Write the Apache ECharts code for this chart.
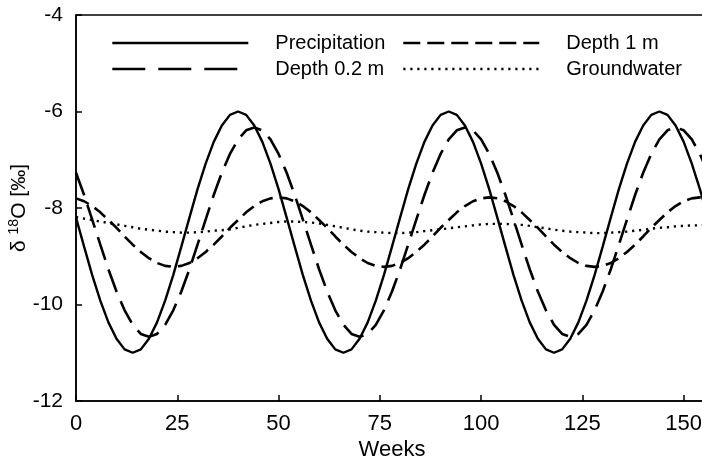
<!DOCTYPE html>
<html>
<head>
<meta charset="utf-8">
<script src="https://cdn.jsdelivr.net/npm/echarts@6/dist/echarts.min.js"></script>
<style>
  html, body { margin: 0; padding: 0; background: #fff; }
  #chart { width: 702px; height: 471px; }
</style>
</head>
<body>
<div id="chart"></div>
<script>
// Sampling weeks (every 2 weeks over three years)
const weeks = [0,2,4,6,8,10,12,14,16,18,20,22,24,26,28,30,32,34,36,38,40,42,44,46,48,50,
  52,54,56,58,60,62,64,66,68,70,72,74,76,78,80,82,84,86,88,90,92,94,96,98,100,102,
  104,106,108,110,112,114,116,118,120,122,124,126,128,130,132,134,136,138,140,142,144,146,148,150,152,154,156];

// δ18O [‰] at each sampled week
const precipitation = [
  -8.20,-8.80,-9.39,-9.92,-10.37,-10.71,-10.93,-11.00,-10.93,-10.71,-10.37,-9.92,-9.39,-8.80,-8.20,-7.61,-7.08,-6.63,-6.29,-6.07,-6.00,-6.07,-6.29,-6.63,-7.08,-7.61,
  -8.20,-8.80,-9.39,-9.92,-10.37,-10.71,-10.93,-11.00,-10.93,-10.71,-10.37,-9.92,-9.39,-8.80,-8.20,-7.61,-7.08,-6.63,-6.29,-6.07,-6.00,-6.07,-6.29,-6.63,-7.08,-7.61,
  -8.20,-8.80,-9.39,-9.92,-10.37,-10.71,-10.93,-11.00,-10.93,-10.71,-10.37,-9.92,-9.39,-8.80,-8.20,-7.61,-7.08,-6.63,-6.29,-6.07,-6.00,-6.07,-6.29,-6.63,-7.08,-7.61,
  -8.20];

const depth02 = [
  -7.27,-7.73,-8.24,-8.76,-9.27,-9.73,-10.12,-10.42,-10.61,-10.67,-10.61,-10.42,-10.12,-9.73,-9.27,-8.76,-8.24,-7.73,-7.27,-6.88,-6.58,-6.39,-6.33,-6.39,-6.58,-6.88,
  -7.27,-7.73,-8.24,-8.76,-9.27,-9.73,-10.12,-10.42,-10.61,-10.67,-10.61,-10.42,-10.12,-9.73,-9.27,-8.76,-8.24,-7.73,-7.27,-6.88,-6.58,-6.39,-6.33,-6.39,-6.58,-6.88,
  -7.27,-7.73,-8.24,-8.76,-9.27,-9.73,-10.12,-10.42,-10.61,-10.67,-10.61,-10.42,-10.12,-9.73,-9.27,-8.76,-8.24,-7.73,-7.27,-6.88,-6.58,-6.39,-6.33,-6.39,-6.58,-6.88,
  -7.27];

const depth1 = [
  -7.80,-7.86,-7.96,-8.09,-8.25,-8.41,-8.59,-8.76,-8.91,-9.04,-9.14,-9.20,-9.22,-9.20,-9.14,-9.04,-8.91,-8.76,-8.59,-8.41,-8.25,-8.09,-7.96,-7.86,-7.80,-7.78,
  -7.80,-7.86,-7.96,-8.09,-8.25,-8.41,-8.59,-8.76,-8.91,-9.04,-9.14,-9.20,-9.22,-9.20,-9.14,-9.04,-8.91,-8.76,-8.59,-8.41,-8.25,-8.09,-7.96,-7.86,-7.80,-7.78,
  -7.80,-7.86,-7.96,-8.09,-8.25,-8.41,-8.59,-8.76,-8.91,-9.04,-9.14,-9.20,-9.22,-9.20,-9.14,-9.04,-8.91,-8.76,-8.59,-8.41,-8.25,-8.09,-7.96,-7.86,-7.80,-7.78,
  -7.80];

const groundwater = [
  -8.19,-8.22,-8.25,-8.28,-8.31,-8.34,-8.37,-8.40,-8.43,-8.45,-8.47,-8.49,-8.50,-8.51,-8.51,-8.50,-8.49,-8.47,-8.46,-8.44,-8.41,-8.38,-8.35,-8.33,-8.31,-8.29,-8.28,
  -8.28,-8.29,-8.30,-8.32,-8.35,-8.38,-8.41,-8.44,-8.47,-8.49,-8.50,-8.51,-8.52,-8.52,-8.51,-8.50,-8.48,-8.46,-8.44,-8.42,-8.40,-8.38,-8.36,-8.34,-8.33,-8.33,
  -8.33,-8.34,-8.35,-8.37,-8.40,-8.42,-8.45,-8.47,-8.49,-8.50,-8.51,-8.52,-8.52,-8.51,-8.50,-8.49,-8.47,-8.45,-8.43,-8.41,-8.40,-8.38,-8.37,-8.36,-8.36,-8.35];

const seriesNames = ['Precipitation', 'Depth 0.2 m', 'Depth 1 m', 'Groundwater'];
const xTickStep = 25;
const yTicks = { min: -12, max: -4, step: 2 };

const FONT = '"Liberation Sans", Arial, sans-serif';
const pairs = vals => weeks.map((w, i) => [w, vals[i]]);

const lineSeries = (name, vals, dash, width) => ({
  name, type: 'line', data: pairs(vals), symbol: 'none', smooth: false,
  itemStyle: { color: '#000' },
  lineStyle: { color: '#000', width, type: dash, cap: 'butt' },
  emphasis: { disabled: true }, animation: false
});

const legendText = { fontFamily: FONT, fontSize: 20, color: '#000', padding: [0, 0, 0, 22], lineHeight: 20 };
const legendBase = {
  orient: 'vertical', top: 28, itemWidth: 136, itemHeight: 20, itemGap: 6,
  textStyle: legendText, selectedMode: false,
  itemStyle: { opacity: 0 }
};

const chart = echarts.init(document.getElementById('chart'), null, { renderer: 'canvas' });
chart.setOption({
  backgroundColor: '#fff',
  animation: false,
  grid: {
    left: 76, top: 15, width: 632, height: 386, outerBoundsMode: 'none', containLabel: false,
    show: true, borderColor: '#000', borderWidth: 1.5, backgroundColor: 'transparent'
  },
  legend: [
    Object.assign({}, legendBase, {
      left: 106,
      data: [
        { name: seriesNames[0], lineStyle: { type: 'solid', width: 2.4, color: '#000' } },
        { name: seriesNames[1], lineStyle: { type: [33, 13], width: 2.6, color: '#000' } }
      ]
    }),
    Object.assign({}, legendBase, {
      left: 397,
      data: [
        { name: seriesNames[2], lineStyle: { type: [17, 7], width: 2.6, color: '#000' } },
        { name: seriesNames[3], lineStyle: { type: [2.2, 4.8], width: 2.4, color: '#000' } }
      ]
    })
  ],
  xAxis: {
    type: 'value', min: 0, max: 156, interval: xTickStep,
    name: 'Weeks', nameLocation: 'middle', nameGap: 38, nameMoveOverlap: false,
    nameTextStyle: { fontFamily: FONT, fontSize: 22, color: '#000' },
    axisLine: { lineStyle: { color: '#000', width: 1.5 } },
    axisTick: { inside: true, length: 6, lineStyle: { color: '#000', width: 1.5 } },
    axisLabel: { fontFamily: FONT, fontSize: 22, color: '#000', margin: 12, showMaxLabel: false },
    splitLine: { show: false }
  },
  yAxis: {
    type: 'value', min: yTicks.min, max: yTicks.max, interval: yTicks.step,
    name: '{d|δ} {s|18}{n|O [‰]}', nameLocation: 'middle', nameRotate: 90, nameGap: 45,
    nameMoveOverlap: false,
    nameTextStyle: {
      fontFamily: FONT, fontSize: 21, color: '#000',
      rich: {
        d: { fontFamily: FONT, fontSize: 21, color: '#000' },
        s: { fontFamily: FONT, fontSize: 14, color: '#000', padding: [0, 0, 10, 0] },
        n: { fontFamily: FONT, fontSize: 21, color: '#000' }
      }
    },
    axisLine: { show: true, lineStyle: { color: '#000', width: 1.5 } },
    axisTick: { show: true, inside: true, length: 6, lineStyle: { color: '#000', width: 1.5 } },
    axisLabel: { fontFamily: FONT, fontSize: 21, color: '#000', margin: 13 },
    splitLine: { show: false }
  },
  series: [
    lineSeries(seriesNames[0], precipitation, 'solid', 2.4),
    lineSeries(seriesNames[1], depth02, [24, 10], 2.6),
    lineSeries(seriesNames[2], depth1, [14, 7], 2.6),
    lineSeries(seriesNames[3], groundwater, [2.2, 4.8], 2.4)
  ]
});
</script>
</body>
</html>
